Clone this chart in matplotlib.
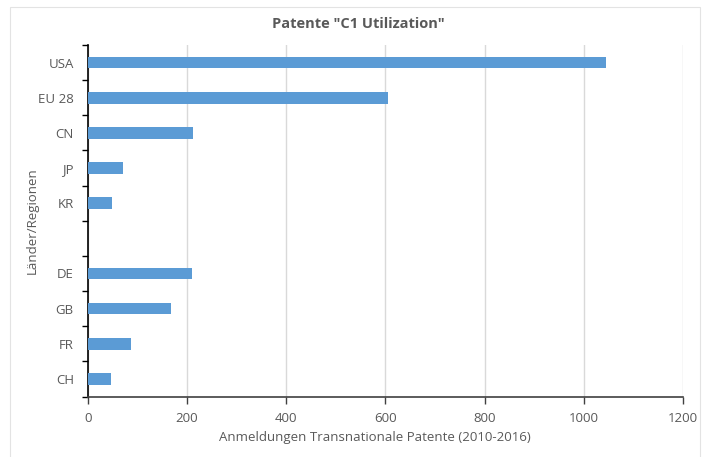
import matplotlib
matplotlib.use("Agg")
import matplotlib.pyplot as plt
import numpy as np
from matplotlib.patches import Rectangle

# data
regions = ["USA", "EU 28", "CN", "JP", "KR", "", "DE", "GB", "FR", "CH"]
patents = [1045, 605, 212, 72, 48, 0, 210, 168, 87, 46]
xticks = [0, 200, 400, 600, 800, 1000, 1200]

grey_txt = "#595959"
bar_col = "#5b9bd5"

plt.rcParams['font.family'] = ['Open Sans', 'DejaVu Sans']

fig = plt.figure(figsize=(7.06, 4.57), dpi=100)
ax = fig.add_axes([87.7 / 706, 1 - 396.5 / 457, (683 - 87.7) / 706, (396.5 - 45) / 457])

# chart area border (only top/left visible in the reference)
fig.patches.append(Rectangle((10 / 706, -0.05), 690 / 706, 1.05 - 7 / 457,
                             transform=fig.transFigure, fill=False,
                             edgecolor="#e3e3e3", linewidth=0.8))

y = np.arange(len(regions))
ax.barh(y, patents, height=0.33, color=bar_col, zorder=3)

ax.set_xlim(0, 1200)
ax.set_ylim(len(regions) - 0.5, -0.5)
ax.set_xticks(xticks)
ax.set_xticklabels([str(t) for t in xticks], color=grey_txt, fontsize=9.5)
ax.set_yticks(y)
ax.set_yticklabels(regions, color=grey_txt, fontsize=9.5)
ax.tick_params(axis='y', which='major', length=0, pad=10)
ax.set_yticks(np.arange(len(regions) + 1) - 0.5, minor=True)
ax.tick_params(axis='y', which='minor', length=4, width=1, color="black")
ax.tick_params(axis='x', length=5, width=1, color="#404040", pad=6)

ax.grid(axis='x', color="#d9d9d9", linewidth=1, zorder=0)
for s in ["top", "right"]:
    ax.spines[s].set_visible(False)
ax.spines["left"].set_color("black")
ax.spines["left"].set_linewidth(1.2)
ax.spines["bottom"].set_color("#404040")
ax.spines["bottom"].set_linewidth(1.2)

ax.set_xlabel("Anmeldungen Transnationale Patente (2010-2016)", color=grey_txt,
              fontsize=9.5)
ax.xaxis.set_label_coords(0.483, -0.098)
ax.set_ylabel("Länder/Regionen", color=grey_txt, fontsize=9.5)
ax.yaxis.set_label_coords(-0.082, 0.5)
fig.text(358 / 706, 1 - 24 / 457, 'Patente "C1 Utilization"', ha="center", va="center",
         fontsize=10.5, fontweight="bold", color=grey_txt)

fig.savefig("out.png", dpi=100)
